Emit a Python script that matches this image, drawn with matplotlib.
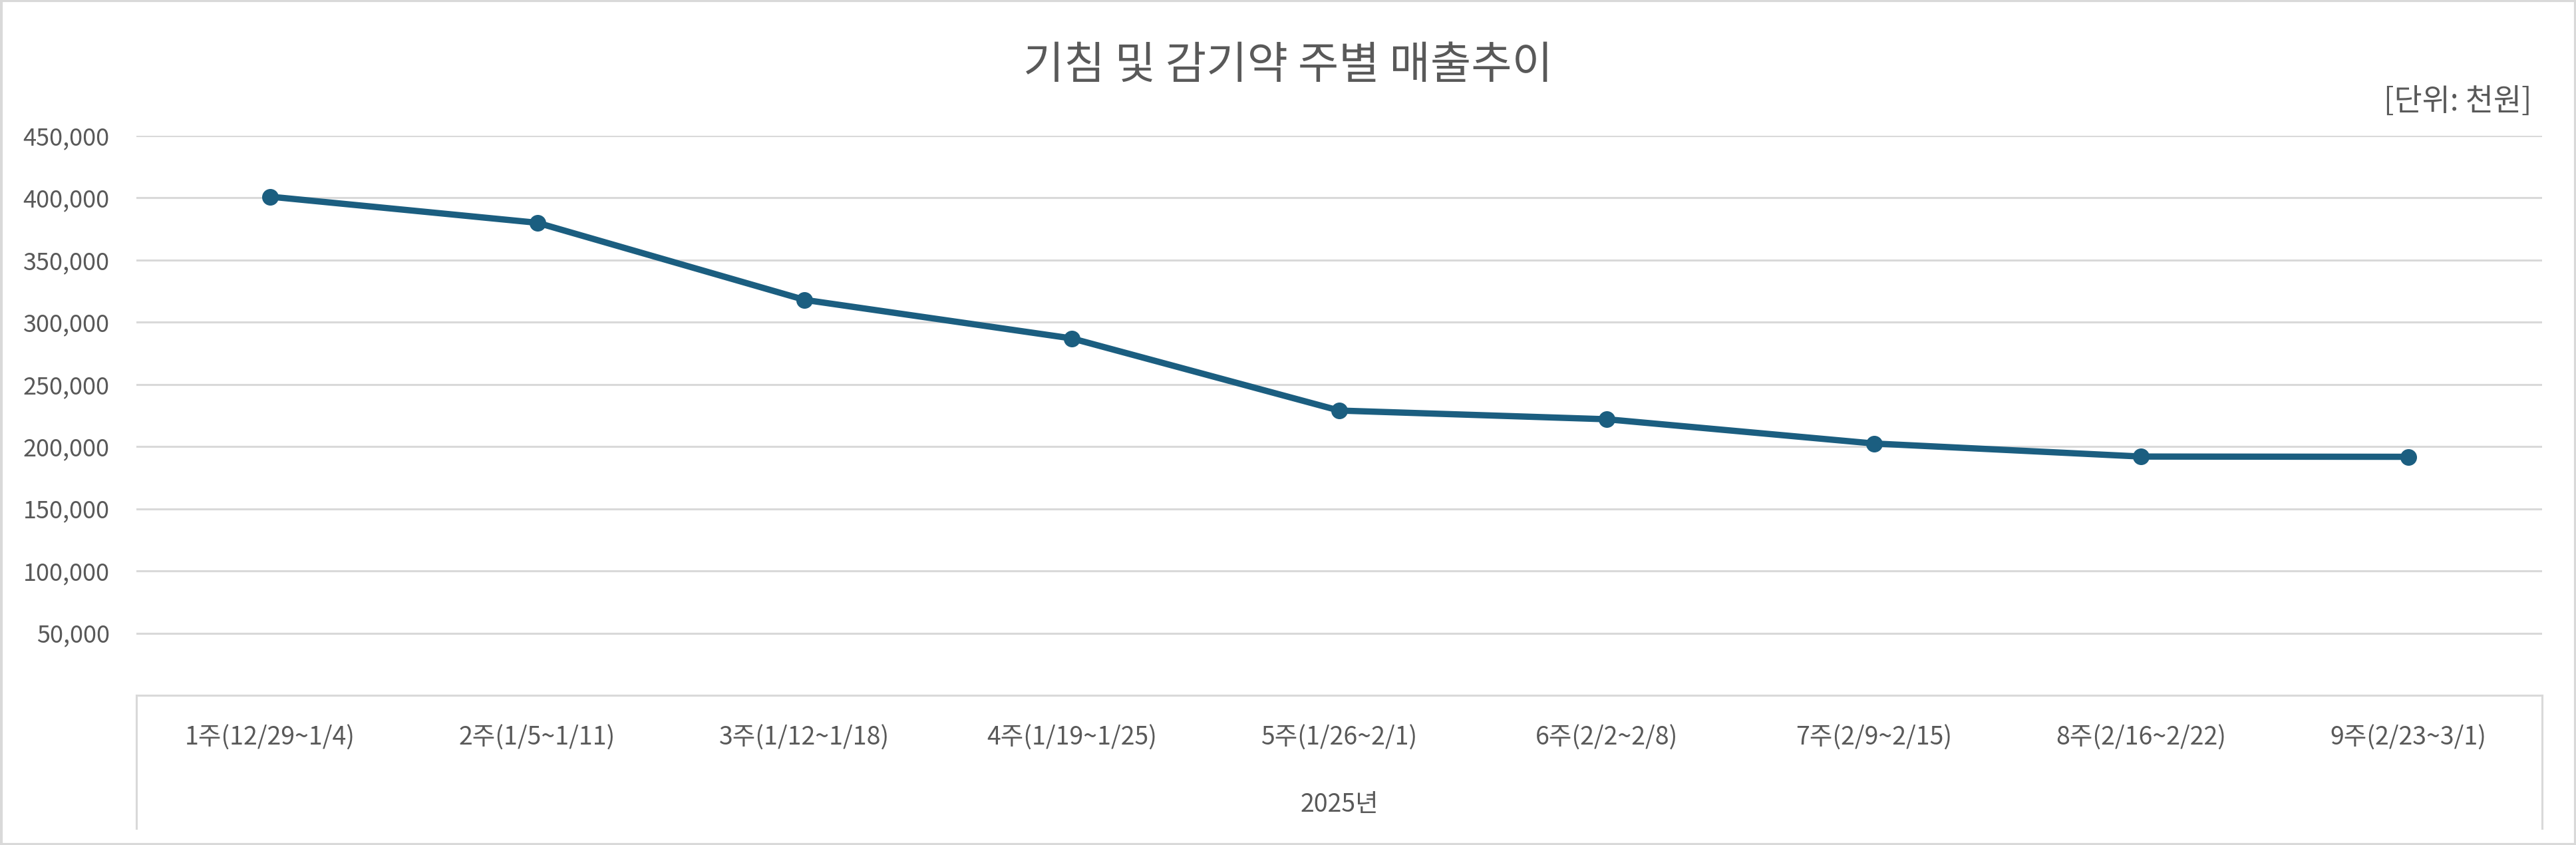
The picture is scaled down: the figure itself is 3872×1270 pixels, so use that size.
import matplotlib
matplotlib.use("Agg")
import matplotlib.pyplot as plt
from matplotlib.ticker import FuncFormatter

plt.rcParams['font.family'] = ['Noto Sans CJK KR', 'DejaVu Sans']

weeks = ["1주(12/29~1/4)", "2주(1/5~1/11)", "3주(1/12~1/18)", "4주(1/19~1/25)",
         "5주(1/26~2/1)", "6주(2/2~2/8)", "7주(2/9~2/15)", "8주(2/16~2/22)",
         "9주(2/23~3/1)"]
sales = [401000, 380000, 318000, 287000, 229000, 222000, 202500, 192000, 191800]
year_label = "2025년"
title = "기침 및 감기약 주별 매출추이"
unit = "[단위: 천원]"
yticks = [50000, 100000, 150000, 200000, 250000, 300000, 350000, 400000, 450000]

line_c = '#1B5E80'
grid_c = '#D9D9D9'
text_c = '#595959'

W, H = 3873, 1270
fig = plt.figure(figsize=(W / 100, H / 100), dpi=100)

# plot area in pixels: left 205, right 3821, top 204, bottom 1045
ax = fig.add_axes([205 / W, 1 - 1045 / H, (3821 - 205) / W, (1045 - 204) / H])

x = list(range(len(weeks)))
ax.plot(x, sales, color=line_c, linewidth=6.8, marker='o', markersize=17,
        markerfacecolor=line_c, markeredgecolor=line_c, zorder=3,
        solid_joinstyle='round')

ax.set_xlim(-0.5, len(weeks) - 0.5)
ax.set_ylim(0, 450000)
ax.set_yticks(yticks)
ax.yaxis.set_major_formatter(FuncFormatter(lambda v, p: f"{int(v):,}"))
ax.tick_params(axis='y', length=0, pad=29, labelsize=26, labelcolor=text_c)
ax.set_xticks([])
ax.grid(axis='y', color=grid_c, linewidth=2.2)
ax.set_axisbelow(True)

for s in ['top', 'right', 'left']:
    ax.spines[s].set_visible(False)
ax.spines['bottom'].set_color(grid_c)
ax.spines['bottom'].set_linewidth(2.2)

# category labels (two levels)
h_ax = 1045 - 204
xt = ax.get_xaxis_transform()
for i, w in enumerate(weeks):
    ax.text(i, -64 / h_ax, w, transform=xt, ha='center', va='center',
            fontsize=27, color=text_c)
ax.text((len(weeks) - 1) / 2, -165 / h_ax, year_label, transform=xt,
        ha='center', va='center', fontsize=27, color=text_c)
for xe in [-0.5, len(weeks) - 0.5]:
    ax.plot([xe, xe], [0, -200 / h_ax], transform=xt, color=grid_c,
            linewidth=2.2, clip_on=False)

fig.text(0.5, 1 - 99 / H, title, ha='center', va='center', fontsize=48,
         color=text_c)
fig.text(3806 / W, 1 - 153 / H, unit, ha='right', va='center', fontsize=33,
         color=text_c)

fig.patches.append(plt.Rectangle((0.0005, 0.001), 0.999, 0.998,
                                 transform=fig.transFigure, fill=False,
                                 edgecolor=grid_c, linewidth=3))

fig.savefig('out.png', dpi=100, facecolor='white')
